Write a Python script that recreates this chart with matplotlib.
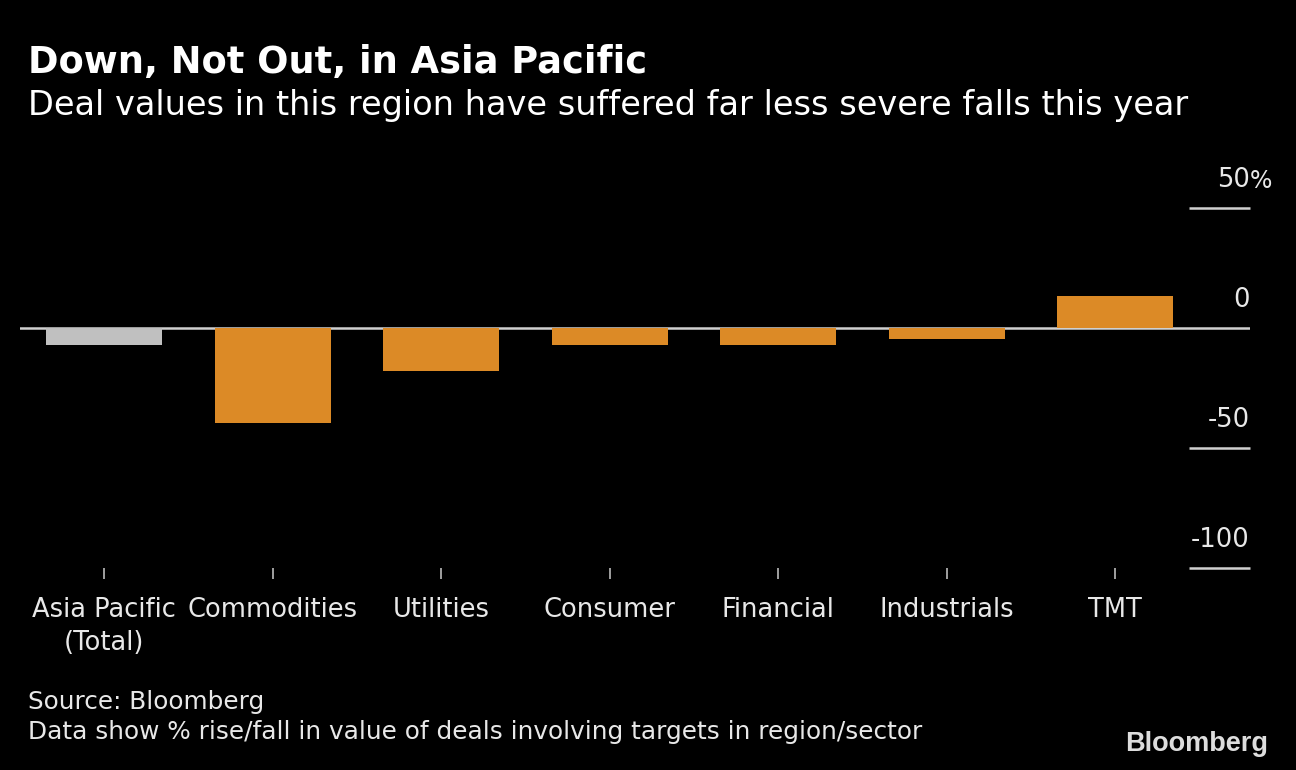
import numpy as np
import matplotlib.pyplot as plt

plt.rcParams['font.family'] = ['DejaVu Sans']

# data
categories = ['Asia Pacific\n(Total)', 'Commodities', 'Utilities', 'Consumer',
              'Financial', 'Industrials', 'TMT']
values = [-6.9, -39.7, -17.7, -6.9, -6.9, -4.5, 13.2]
bar_colors = ['#c0c0c0'] + ['#dc8a26'] * 6
y_ticks = [50, 0, -50, -100]
y_labels = ['50', '0', '-50', '-100']

bg = '#000000'
fg = '#e8e8e8'

fig = plt.figure(figsize=(12.96, 7.70), dpi=100, facecolor=bg)
ax = fig.add_axes([20 / 1296, 202 / 770, 1230 / 1296, 361 / 770])
ax.set_facecolor(bg)

x = np.arange(len(categories))
ax.axhline(0, color='#d0d0d0', lw=1.8, zorder=1)
ax.bar(x, values, width=0.69, color=bar_colors, zorder=2)

ax.set_xlim(-0.5, 6.8)
ax.set_ylim(-100, 50.5)

# right-hand value labels sitting on short rules
for v, lab in zip(y_ticks, y_labels):
    if v != 0:
        ax.hlines(v, 6.44, 6.8, color='#d0d0d0', lw=1.8, clip_on=False)
    ax.annotate(lab, (6.8, v), xytext=(0, 11), textcoords='offset points',
                ha='right', va='bottom', color=fg, fontsize=18.5)
ax.annotate('%', (6.8, 50), xytext=(0, 11), textcoords='offset points',
            ha='left', va='bottom', color=fg, fontsize=17, annotation_clip=False)

for s in ax.spines.values():
    s.set_visible(False)
ax.set_yticks([])
ax.set_xticks(x)
ax.set_xticklabels(categories, fontsize=18.5, color=fg, linespacing=1.35)
ax.tick_params(axis='x', length=8, width=1.2, color='#bbbbbb', pad=13,
               direction='out')

fig.text(28 / 1296, 1 - 63 / 770, 'Down, Not Out, in Asia Pacific', color='white',
         fontsize=26.5, fontweight='bold', va='center', ha='left')
fig.text(28 / 1296, 1 - 106 / 770,
         'Deal values in this region have suffered far less severe falls this year',
         color='white', fontsize=24.2, va='center', ha='left')
fig.text(28 / 1296, 1 - 702 / 770, 'Source: Bloomberg', color=fg, fontsize=17.8,
         va='center', ha='left')
fig.text(28 / 1296, 1 - 732 / 770,
         'Data show % rise/fall in value of deals involving targets in region/sector',
         color=fg, fontsize=17.8, va='center', ha='left')
fig.text(1268 / 1296, 1 - 744 / 770, 'Bloomberg', color='#dddddd', fontsize=19.5,
         fontweight='bold', family='Liberation Sans', va='center', ha='right')

fig.savefig('out.png', dpi=100, facecolor=bg)
